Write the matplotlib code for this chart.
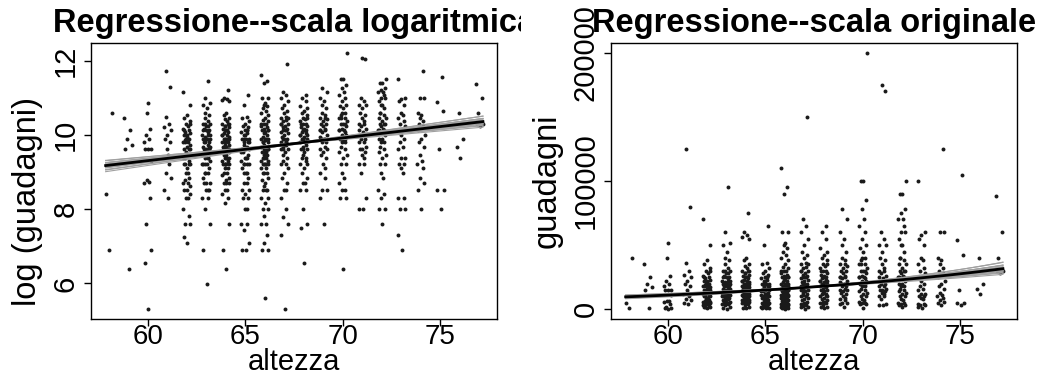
import numpy as np
import matplotlib
matplotlib.use('Agg')
import matplotlib.pyplot as plt
from matplotlib.transforms import Bbox, TransformedBbox

plt.rcParams['font.family'] = ['Liberation Sans', 'DejaVu Sans']

# earnings in thousands of dollars, grouped by height (inches)
heights = list(range(58, 78))
earn_58 = [1, 4.5, 40]
earn_59 = [0.6, 15, 17, 20, 25, 35]
earn_60 = [0.2, 0.7, 1, 2, 4, 6, 6.2, 6.5, 11, 15, 15, 15, 18, 20, 22, 26, 40, 52]
earn_61 = [4, 5, 7, 8, 10, 12, 13, 15, 18, 20, 22, 25, 27, 30, 36, 80, 125]
earn_62 = [1.2, 1.4, 2, 2, 2.5, 3, 4, 4, 4.5, 5, 5, 5.5, 6, 6, 6.5, 7, 8, 9, 10, 10, 10,
           11, 12, 13, 14, 15, 15, 16, 17, 18, 18, 19, 20, 20, 21, 22, 23, 24, 25, 26,
           28, 30, 32, 35, 38, 50, 70, 8, 12, 15, 20, 22, 25, 30, 18, 10]
earn_63 = [0.4, 1, 2, 3, 4, 4, 5, 5, 5, 6, 6, 6, 7, 8, 8, 9, 10, 10, 10, 11, 12, 12, 13,
           13, 14, 15, 15, 15, 16, 16, 17, 18, 18, 19, 20, 20, 20, 21, 22, 22, 24, 25, 25,
           26, 28, 30, 30, 32, 35, 38, 40, 45, 50, 52, 60, 95, 10, 12, 14, 15, 18, 20, 22,
           25, 28, 30, 16, 8]
earn_64 = [0.6, 1, 2, 3.5, 4, 4.5, 5, 5, 6, 6, 6.5, 7, 7.5, 8, 8, 9, 9, 10, 10, 10, 10,
           11, 11, 12, 12, 12, 13, 13, 14, 14, 15, 15, 15, 15, 16, 16, 17, 17, 18, 18, 19,
           20, 20, 20, 20, 21, 22, 22, 23, 24, 25, 25, 26, 27, 28, 30, 30, 32, 34, 35, 38,
           40, 55, 56, 58, 60, 75, 10, 12, 14, 15, 18, 20, 22, 25, 28, 30, 16, 6]
earn_65 = [1, 1, 1.2, 1.7, 2, 2, 3, 3, 4, 4, 4.5, 5, 5, 6, 6, 7, 8, 8, 9, 10, 10, 10, 11,
           12, 12, 13, 14, 15, 15, 15, 16, 17, 18, 18, 20, 20, 20, 22, 23, 24, 25, 25, 27,
           28, 30, 32, 35, 36, 50, 65, 10, 12, 15, 18, 20, 25, 14, 8, 22]
earn_66 = [0.27, 1, 1, 1.2, 1.5, 2, 2, 2.5, 3, 3, 3.5, 4, 4, 5, 5, 5, 5.5, 6, 6.5, 7, 8,
           8, 9, 9, 10, 10, 10, 10, 11, 11, 12, 12, 13, 13, 14, 14, 15, 15, 15, 16, 16, 17,
           18, 18, 19, 20, 20, 20, 21, 22, 23, 24, 25, 25, 26, 27, 28, 30, 30, 32, 33, 35,
           38, 40, 42, 45, 48, 50, 52, 60, 60, 90, 95, 110, 10, 12, 15, 18, 20, 25, 30, 14, 8]
earn_67 = [0.2, 1.5, 2, 2.4, 3, 4, 5, 5, 6, 7, 8, 9, 10, 10, 11, 12, 13, 14, 15, 15, 16,
           17, 18, 18, 20, 20, 21, 22, 23, 24, 25, 25, 26, 27, 28, 30, 30, 32, 33, 35, 36,
           40, 42, 45, 50, 55, 60, 65, 70, 150, 20, 25, 30, 35, 15, 18]
earn_68 = [0.7, 1.8, 2, 3, 5, 5, 6, 6, 7, 8, 9, 10, 10, 11, 12, 12, 13, 14, 15, 15, 16,
           17, 18, 18, 19, 20, 20, 21, 22, 22, 23, 24, 25, 25, 26, 27, 28, 30, 30, 32, 34,
           35, 38, 40, 42, 45, 48, 55, 60, 65, 20, 25, 30, 35, 15, 18, 22]
earn_69 = [2, 4, 5, 5, 7, 8, 9, 10, 12, 13, 14, 15, 15, 16, 18, 18, 20, 20, 21, 22, 24,
           25, 25, 26, 28, 30, 30, 32, 34, 35, 38, 40, 45, 50, 55, 60, 70, 78, 20, 25, 35]
earn_70 = [0.6, 4, 4, 5, 5, 6, 7, 8, 10, 10, 12, 13, 14, 15, 16, 18, 18, 20, 20, 22, 22,
           24, 25, 25, 26, 28, 30, 30, 32, 35, 35, 38, 40, 40, 45, 48, 50, 55, 60, 65, 70,
           78, 85, 100, 100, 200, 25, 30, 35, 20]
earn_71 = [3, 3, 4, 8, 10, 10, 12, 13, 14, 15, 15, 16, 18, 18, 20, 20, 22, 24, 25, 26, 28,
           30, 30, 32, 35, 38, 40, 45, 50, 50, 55, 60, 170, 175]
earn_72 = [2, 3, 3, 4, 4.5, 5, 7, 8, 10, 10, 12, 13, 14, 15, 16, 18, 18, 20, 20, 22, 24,
           25, 25, 26, 28, 30, 30, 32, 35, 35, 38, 40, 45, 50, 50, 55, 60, 60, 65, 70, 70,
           75, 78, 90, 90, 100, 25, 30, 40]
earn_73 = [1, 1.5, 3, 3, 4, 4, 8, 9, 10, 10, 12, 12, 15, 16, 18, 20, 22, 25, 25, 28, 30,
           32, 35, 38, 40, 50, 55, 58, 60, 100]
earn_74 = [3, 5, 6, 7, 9, 10, 11, 13, 16, 18, 20, 22, 25, 28, 30, 32, 35, 38, 40, 60, 60, 125]
earn_75 = [3, 5, 5, 15, 42, 54, 105]
earn_76 = [12, 16, 20, 40]
earn_77 = [28, 30, 30, 40, 60, 88]
columns = [earn_58, earn_59, earn_60, earn_61, earn_62, earn_63, earn_64, earn_65,
           earn_66, earn_67, earn_68, earn_69, earn_70, earn_71, earn_72, earn_73,
           earn_74, earn_75, earn_76, earn_77]

# jitter offsets for height (like R's jitter(), amount 0.2)
jitter = [0.03, -0.15, 0.18, -0.06, 0.11, -0.19, 0.07, -0.02, 0.15, -0.11,
          0.00, 0.19, -0.17, 0.09, -0.08, 0.13, -0.04]

# simulated regression coefficients (log earnings ~ height)
b_hat = [5.63, 0.0613]
sim_a = [6.484, 6.211, 6.072, 5.953, 5.804, 5.694, 5.645, 5.541, 5.471, 5.365,
         5.2925, 5.132, 4.945, 4.714, 6.6375, 4.525, 5.883, 5.228, 6.141, 5.563]
sim_b = [0.0488, 0.05255, 0.05505, 0.0563, 0.0588, 0.06005, 0.0613, 0.06255, 0.0638, 0.06505,
         0.0663, 0.0688, 0.0713, 0.07505, 0.0463, 0.07755, 0.05755, 0.06755, 0.0538, 0.06193]

x = []
earn = []
for h, col in zip(heights, columns):
    for i, e in enumerate(col):
        x.append(h + jitter[i % len(jitter)])
        earn.append(e * 1000)
x = np.array(x)
earn = np.array(earn)
xs = np.linspace(x.min(), x.max(), 100)

fig = plt.figure(figsize=(10.42, 3.76), dpi=100)
ax1 = fig.add_axes([91/1042, 57/376, 406/1042, 276/376])
ax2 = fig.add_axes([611/1042, 57/376, 406/1042, 276/376])

ax1.scatter(x, np.log(earn), s=8, color='#1a1a1a', linewidths=0)
for a, b in zip(sim_a, sim_b):
    ax1.plot(xs, a + b*xs, color='#a0a0a0', lw=0.8)
ax1.plot(xs, b_hat[0] + b_hat[1]*xs, color='black', lw=2)

ax2.scatter(x, earn, s=8, color='#1a1a1a', linewidths=0)
for a, b in zip(sim_a, sim_b):
    ax2.plot(xs, np.exp(a + b*xs), color='#a0a0a0', lw=0.8)
ax2.plot(xs, np.exp(b_hat[0] + b_hat[1]*xs), color='black', lw=2)

ax1.set_xlim(57.1, 77.9)
ax1.set_ylim(5.04, 12.48)
ax1.set_yticks([6, 8, 10, 12])
ax2.set_xlim(57.1, 77.9)
ax2.set_ylim(-7600, 207500)
ax2.set_yticks([0, 100000, 200000])
ax2.set_yticklabels(['0', '100000', '200000'])

for ax in (ax1, ax2):
    ax.set_xticks([60, 65, 70, 75])
    ax.tick_params(direction='out', length=5, width=1, pad=-1.5)
    ax.tick_params(axis='x', labelsize=20)
    ax.tick_params(axis='y', labelrotation=90, labelsize=21, pad=3)
    for lab in ax.get_yticklabels():
        lab.set_va('center')
    for sp in ax.spines.values():
        sp.set_linewidth(1)
    ax.set_xlabel('altezza', fontsize=21, va='baseline')
    ax.xaxis.set_label_coords(0.5, -51/276)

ax1.set_ylabel('log (guadagni)', fontsize=23.5)
ax1.yaxis.set_label_coords(-0.118, 0.4275)
ax2.set_ylabel('guadagni', fontsize=23.5)
ax2.yaxis.set_label_coords(-0.12, 0.5)

t1 = ax1.set_title('Regressione--scala logaritmica', fontsize=23.5, fontweight='bold', pad=8)
t1.set_clip_box(TransformedBbox(Bbox.from_extents(0, 0, 0.5, 1), fig.transFigure))
t1.set_clip_on(True)
ax2.set_title('Regressione--scala originale', fontsize=23.5, fontweight='bold', pad=8)

fig.savefig('out.png', dpi=100)
